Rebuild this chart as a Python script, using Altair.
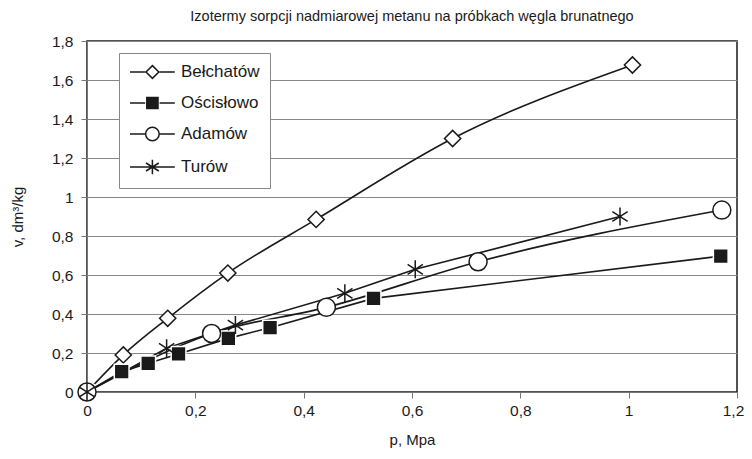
import altair as alt
import pandas as pd

# ---- data ----
series_names = ["Bełchatów", "Ościsłowo", "Adamów", "Turów"]

belchatow_p = [0, 0.067, 0.149, 0.26, 0.423, 0.675, 1.007]
belchatow_v = [0, 0.19, 0.378, 0.61, 0.885, 1.30, 1.677]

oscislowo_p = [0, 0.064, 0.113, 0.169, 0.261, 0.338, 0.529, 1.17]
oscislowo_v = [0, 0.104, 0.147, 0.195, 0.275, 0.33, 0.48, 0.697]

adamow_p = [0, 0.230, 0.442, 0.722, 1.172]
adamow_v = [0, 0.30, 0.434, 0.668, 0.933]

turow_p = [0, 0.147, 0.274, 0.476, 0.606, 0.984]
turow_v = [0, 0.224, 0.343, 0.506, 0.629, 0.90]

smooth_series = ["Bełchatów", "Adamów"]

rows = []
for name, ps, vs in [
    ("Bełchatów", belchatow_p, belchatow_v),
    ("Ościsłowo", oscislowo_p, oscislowo_v),
    ("Adamów", adamow_p, adamow_v),
    ("Turów", turow_p, turow_v),
]:
    for i, (p, v) in enumerate(zip(ps, vs)):
        rows.append({"series": name, "series2": name, "p": p, "v": v, "order": i})
df = pd.DataFrame(rows)

# marker shapes (unit box -1..1)
diamond = "M0,-0.9L0.9,0L0,0.9L-0.9,0Z"
square = "M-0.82,-0.82L0.82,-0.82L0.82,0.82L-0.82,0.82Z"
circle = "M1,0A1,1,0,1,1,-1,0A1,1,0,1,1,1,0Z"
star = "M0,-1L0,1M-0.85,-0.55L0.85,0.55M-0.85,0.55L0.85,-0.55"
plot_shapes = [diamond, square, circle, star]
plot_fills = ["white", "#1a1a1a", "white", "transparent"]
plot_strokes = ["#1a1a1a", "white", "#1a1a1a", "#1a1a1a"]

# legend symbols: a line with a marker at its middle (line spans x -1..4.6, marker at 1.8)
def leg(marker):
    return "M-1,0L0.9,0M2.7,0L4.6,0" + marker

c = 1.8
leg_shapes = [
    leg(f"M{c},-0.8L{c+0.8},0L{c},0.8L{c-0.8},0Z"),
    leg(f"M{c-0.7},-0.7L{c+0.7},-0.7L{c+0.7},0.7L{c-0.7},0.7Z"),
    leg(f"M{c+0.85},0A0.85,0.85,0,1,1,{c-0.85},0A0.85,0.85,0,1,1,{c+0.85},0Z"),
    leg(f"M{c},-0.9L{c},0.9M{c-0.8},-0.5L{c+0.8},0.5M{c-0.8},0.5L{c+0.8},-0.5M{c-0.9},0L{c+0.9},0"),
]
leg_fills = ["white", "#1a1a1a", "white", "transparent"]
leg_strokes = ["#1a1a1a", "#1a1a1a", "#1a1a1a", "#1a1a1a"]

FONT = "Liberation Sans"

x_enc = alt.X("p:Q", scale=alt.Scale(domain=[0, 1.2], nice=False),
              axis=alt.Axis(title="p, Mpa", values=[0, 0.2, 0.4, 0.6, 0.8, 1.0, 1.2],
                            format="~g", labelExpr="replace(datum.label, '.', ',')",
                            labelFlush=False,
                            labelOffset={"condition": {"test": "datum.value >= 1.19", "value": -4}, "value": 0},
                            grid=False, tickSize=6, labelPadding=5, titlePadding=14,
                            domainColor="#777", tickColor="#777"))
y_enc = alt.Y("v:Q", scale=alt.Scale(domain=[0, 1.8], nice=False),
              axis=alt.Axis(title="v, dm³/kg", values=[0, 0.2, 0.4, 0.6, 0.8, 1.0, 1.2, 1.4, 1.6, 1.8],
                            format="~g", labelExpr="replace(datum.label, '.', ',')",
                            labelFlush=False,
                            grid=True, gridColor="#888", tickSize=6, labelPadding=8,
                            titlePadding=26, domainColor="#777", tickColor="#777"))

base = alt.Chart(df)

smooth_lines = base.transform_filter(
    alt.FieldOneOfPredicate(field="series", oneOf=smooth_series)
).mark_line(interpolate="monotone", color="#1a1a1a", strokeWidth=1.6).encode(
    x=x_enc, y=y_enc, detail="series:N", order="order:Q")

straight_lines = base.transform_filter(
    ~alt.FieldOneOfPredicate(field="series", oneOf=smooth_series)
).mark_line(color="#1a1a1a", strokeWidth=1.6).encode(
    x=x_enc, y=y_enc, detail="series:N", order="order:Q")

points = base.mark_point(filled=True, size=324, strokeWidth=1.5, opacity=1).encode(
    x=x_enc, y=y_enc,
    shape=alt.Shape("series:N", scale=alt.Scale(domain=series_names, range=plot_shapes), legend=None),
    fill=alt.Fill("series:N", scale=alt.Scale(domain=series_names, range=plot_fills), legend=None),
    stroke=alt.Stroke("series:N", scale=alt.Scale(domain=series_names, range=plot_strokes), legend=None),
)

legend_spec = alt.Legend(
    title=None, orient="none", legendX=32, legendY=12,
    symbolSize=256, symbolStrokeWidth=1.5,
    symbolOpacity=1, labelOffset=34, rowPadding=12, padding=10,
    fillColor="white", strokeColor="#888", labelFont=FONT, labelFontSize=17,
    labelColor="#1a1a1a",
)

legend_layer = base.mark_point(filled=True, opacity=0, size=1, strokeWidth=1.5).encode(
    x=x_enc, y=y_enc,
    shape=alt.Shape("series2:N", scale=alt.Scale(domain=series_names, range=leg_shapes), legend=legend_spec),
    fill=alt.Fill("series2:N", scale=alt.Scale(domain=series_names, range=leg_fills), legend=legend_spec),
    stroke=alt.Stroke("series2:N", scale=alt.Scale(domain=series_names, range=leg_strokes), legend=legend_spec),
)

chart = alt.layer(smooth_lines, straight_lines, points, legend_layer).resolve_scale(
    shape="independent", fill="independent", stroke="independent"
).properties(
    width=650, height=351,
    autosize=alt.AutoSizeParams(type="none"),
    padding={"left": 79, "top": 33, "right": 7, "bottom": 60},
    title=alt.TitleParams("Izotermy sorpcji nadmiarowej metanu na próbkach węgla brunatnego",
                          font=FONT, fontSize=14.5, fontWeight="normal", color="#1a1a1a",
                          anchor="middle", offset=10),
).configure_view(
    stroke="#1a1a1a", strokeWidth=1.5
).configure_axis(
    labelFont=FONT, labelFontSize=15.5, labelColor="#1a1a1a",
    titleFont=FONT, titleFontSize=15, titleFontWeight="normal", titleColor="#1a1a1a",
)

chart.save("out.html", embed_options={"renderer": "svg", "actions": False})
